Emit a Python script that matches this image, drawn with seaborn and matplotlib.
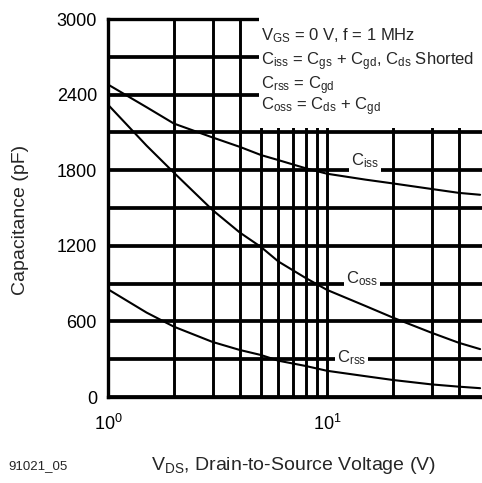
import matplotlib
matplotlib.use("Agg")
import matplotlib.pyplot as plt
from matplotlib.patches import Rectangle
import numpy as np
import pandas as pd
import seaborn as sns

# Drain-to-source voltage (V) and capacitances (pF)
vds = [1, 1.5, 2, 3, 4, 5, 6, 8, 10, 15, 20, 30, 40, 50]
c_iss = [2480, 2300, 2170, 2060, 1985, 1920, 1880, 1815, 1772, 1725, 1695, 1651, 1620, 1605]
c_oss = [2320, 1995, 1780, 1484, 1305, 1190, 1075, 944, 850, 722, 630, 510, 430, 380]
c_rss = [855, 670, 558, 437, 373, 333, 288, 246, 208, 165, 135, 100, 82, 70]

y_ticks = [0, 600, 1200, 1800, 2400, 3000]
x_ticks = [1, 10]
x_tick_labels = [r"$\mathregular{10^{0}}$", r"$\mathregular{10^{1}}$"]

sns.set_theme(style="white")
plt.rcParams["font.family"] = ["Liberation Sans", "DejaVu Sans"]
plt.rcParams["mathtext.default"] = "regular"

df = pd.DataFrame({
    "vds": vds * 3,
    "cap": c_iss + c_oss + c_rss,
    "curve": ["iss"] * len(vds) + ["oss"] * len(vds) + ["rss"] * len(vds),
})

W, H = 482, 483
fig = plt.figure(figsize=(W / 100, H / 100), dpi=100)
ax = fig.add_axes([108 / W, 1 - 397 / H, 374 / W, 378 / H])

sns.lineplot(data=df, x="vds", y="cap", units="curve", estimator=None,
             color="black", linewidth=1.5, ax=ax, zorder=4)

ax.set_xscale("log")
ax.set_xlim(1, 51)
ax.set_ylim(0, 3000)

ax.set_xticks(x_ticks)
ax.set_xticklabels(x_tick_labels)
ax.set_xticks([2, 3, 4, 5, 6, 7, 8, 9, 20, 30, 40], minor=True)
ax.set_yticks(y_ticks)
ax.set_yticks([300, 900, 1500, 2100, 2700], minor=True)

ax.xaxis.grid(True, which="both", color="black", linewidth=2.1)
ax.yaxis.grid(True, which="both", color="black", linewidth=2.7)
ax.tick_params(axis="both", which="both", length=0, labelsize=13, colors="black")
ax.tick_params(axis="y", pad=8)
ax.tick_params(axis="x", pad=12)
ax.set_xlabel("")
ax.set_ylabel("")

for side in ["left", "top", "bottom"]:
    ax.spines[side].set_color("black")
    ax.spines[side].set_linewidth(2.4)
ax.spines["right"].set_visible(False)

# Conditions box in the upper right corner
ax.add_patch(Rectangle((151 / 374, (397 - 128) / 378), 1.0, 0.5,
                       transform=ax.transAxes, facecolor="white",
                       edgecolor="none", zorder=3, clip_on=False))
notes = [
    (0.944, r"$\mathregular{V_{GS}}$ = 0 V, f = 1 MHz"),
    (0.878, r"$\mathregular{C_{iss}}$ = $\mathregular{C_{gs}}$ + $\mathregular{C_{gd}}$, $\mathregular{C_{ds}}$ Shorted"),
    (0.814, r"$\mathregular{C_{rss}}$ = $\mathregular{C_{gd}}$"),
    (0.758, r"$\mathregular{C_{oss}}$ = $\mathregular{C_{ds}}$ + $\mathregular{C_{gd}}$"),
]
for y, s in notes:
    ax.text(153 / 374, y, s, transform=ax.transAxes, fontsize=12,
            ha="left", va="baseline", zorder=5)

# Curve labels
box = dict(facecolor="white", edgecolor="none", pad=1.5)
ax.text(12.8, 1875, r"$\mathregular{C_{iss}}$", fontsize=12, ha="left",
        va="center", bbox=box, zorder=5)
ax.text(12.2, 940, r"$\mathregular{C_{oss}}$", fontsize=12, ha="left",
        va="center", bbox=box, zorder=5)
ax.text(11.1, 310, r"$\mathregular{C_{rss}}$", fontsize=12, ha="left",
        va="center", bbox=box, zorder=5)

fig.text(293 / W, 1 - 465 / H, r"$\mathregular{V_{DS}}$, Drain-to-Source Voltage (V)",
         fontsize=14, ha="center", va="center")
fig.text(21 / W, 1 - 220 / H, "Capacitance (pF)", fontsize=14,
         rotation=90, ha="center", va="center")
fig.text(8 / W, 1 - 466 / H, "91021_05", fontsize=9.5, ha="left", va="center")

fig.savefig("out.png", dpi=100)
